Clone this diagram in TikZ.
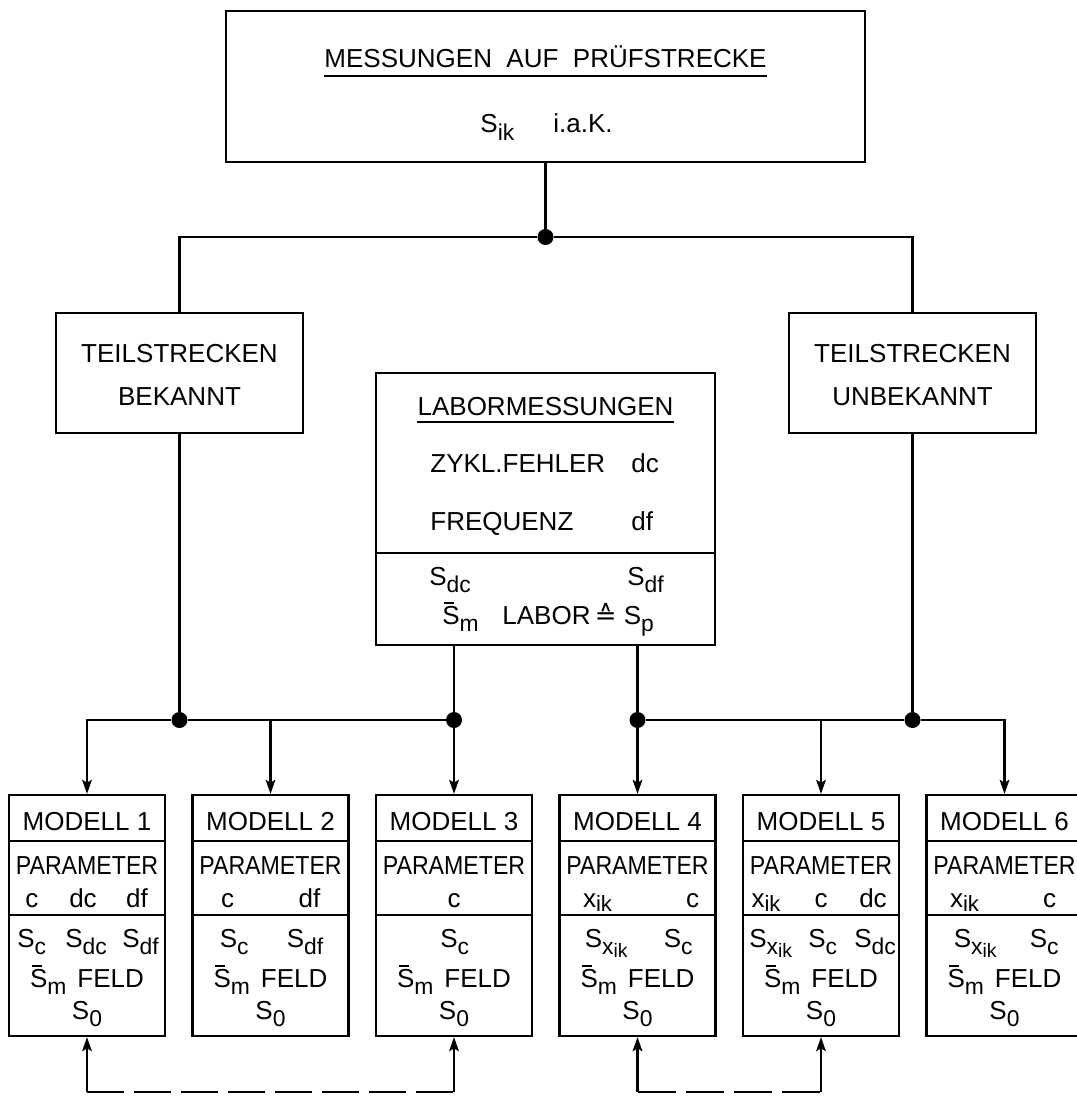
\documentclass[tikz,border=0pt]{standalone}
\usepackage{fontspec}
\setmainfont{Liberation Sans}
\newfontfamily\symf{DejaVu Sans}
\usepackage{graphicx}
\usetikzlibrary{arrows.meta}

\newcommand\sub[1]{\raisebox{-0.27em}{\scalebox{0.88}{#1}}}
\newcommand\xik{x\raisebox{-0.17em}{\scalebox{0.85}{ik}}}
\newcommand\Sbar{\leavevmode\rlap{\hspace{0.06em}\rule[0.78em]{0.38em}{0.07em}}S}

\tikzset{
  box/.style={draw, line width=1.25pt, inner sep=0pt},
  txt/.style={inner sep=0pt, anchor=base},
  con/.style={line width=1.2pt},
  arr/.style={con, -{Stealth[length=8pt, width=5.5pt, inset=1.6pt]}},
  dot/.style={circle, fill, inner sep=0pt, minimum size=0.32cm}
}

\begin{document}
\begin{tikzpicture}[font=\fontsize{14.8}{18}\selectfont]
  \useasboundingbox (0,0) rectangle (21.52,-21.92);

  % Pruefstrecke
  \node[box, minimum width=12.78cm, minimum height=3.02cm] (mess) at (10.91,-1.73) {};
  \node[txt] (messT) at (10.91,-1.36) {MESSUNGEN\ \ AUF\ \ PRÜFSTRECKE};
  \draw[con] ([yshift=-0.16cm]messT.base west) -- ([yshift=-0.16cm]messT.base east);
  \node[txt] (messS) at (10.93,-2.66) {S\sub{ik}\hspace{1.5em}i.a.K.};

  % Teilstrecken
  \node[box, minimum width=4.94cm, minimum height=2.40cm] (tbek) at (3.59,-7.46) {};
  \node[txt] (tbek1) at (3.59,-7.24) {TEILSTRECKEN};
  \node[txt] (tbek2) at (3.59,-8.10) {BEKANNT};
  \node[box, minimum width=4.94cm, minimum height=2.40cm] (tunb) at (18.25,-7.46) {};
  \node[txt] (tunb1) at (18.25,-7.24) {TEILSTRECKEN};
  \node[txt] (tunb2) at (18.25,-8.10) {UNBEKANNT};

  % Labor
  \node[box, minimum width=6.78cm, minimum height=5.44cm] (labor) at (10.91,-10.18) {};
  \node[txt] (laborT) at (10.91,-8.30) {LABORMESSUNGEN};
  \draw[con] ([yshift=-0.14cm]laborT.base west) -- ([yshift=-0.14cm]laborT.base east);
  \node[txt, anchor=base west] (zykl) at (8.60,-9.44) {ZYKL.FEHLER};
  \node[txt, anchor=base west] (zyklD) at (12.62,-9.44) {dc};
  \node[txt, anchor=base west] (freq) at (8.60,-10.60) {FREQUENZ};
  \node[txt, anchor=base west] (freqD) at (12.62,-10.60) {df};
  \coordinate (lcut) at (10.91,-11.06);
  \draw[box] (labor.west |- lcut) -- (labor.east |- lcut);
  \node[txt, anchor=base west] (sdc) at (8.58,-11.70) {S\sub{dc}};
  \node[txt, anchor=base west] (sdf) at (12.54,-11.70) {S\sub{df}};
  \node[txt, anchor=base west] (smL) at (8.84,-12.48) {\Sbar\sub{m}};
  \node[txt, anchor=base west] (lab) at (10.04,-12.48) {LABOR{\symf\,≙}\ S\sub{p}};

  % Modelle
  \foreach \n/\x in {1/1.74, 2/5.41, 3/9.08, 4/12.75, 5/16.42, 6/20.09}{
    \node[box, minimum width=3.12cm, minimum height=4.82cm] (m\n) at (\x,-18.31) {};
    \draw[box] ([yshift=-0.94cm]m\n.north west) -- ([yshift=-0.94cm]m\n.north east);
    \draw[box] ([yshift=-2.42cm]m\n.north west) -- ([yshift=-2.42cm]m\n.north east);
    \node[txt] (mt\n) at (\x,-16.60) {MODELL \n};
    \node[txt] (mp\n) at (\x,-17.48) {\scalebox{0.89}[1]{PARAMETER}};
    \node[txt] (mf\n) at (\x,-19.74) {\Sbar\sub{m}\hspace{0.42em}FELD};
    \node[txt] (mn\n) at (\x,-20.38) {S\sub{0}};
  }
  \foreach \n/\x/\row in {1/1.74/{-1.10/c,-0.08/dc,1.00/df}, 2/5.41/{-0.86/c,0.78/df},
      3/9.08/{0/c}, 4/12.75/{-0.80/\xik,1.10/c},
      5/16.42/{-1.10/\xik,0/c,1.04/dc}, 6/20.09/{-0.80/\xik,0.90/c}}
    \foreach \dx/\t [count=\k] in \row
      \node[txt] (pa\n-\k) at (\x+\dx,-18.14) {\t};
  \foreach \n/\x/\row in {1/1.74/{-1.40/S\sub{c},-0.44/S\sub{dc},0.70/S\sub{df}},
      2/5.41/{-1.02/S\sub{c},0.32/S\sub{df}}, 3/9.08/{-0.28/S\sub{c}},
      4/12.75/{-1.06/S\sub{\xik},0.52/S\sub{c}},
      5/16.42/{-1.44/S\sub{\xik},-0.26/S\sub{c},0.66/S\sub{dc}},
      6/20.09/{-1.02/S\sub{\xik},0.50/S\sub{c}}}
    \foreach \dx/\t [count=\k] in \row
      \node[txt, anchor=base west] (ps\n-\k) at (\x+\dx,-18.94) {\t};

  % Verbindungen
  \node[dot] (j0) at (10.91,-4.74) {};
  \draw[con] (mess) -- (j0);
  \draw[con] (tbek) |- (j0) -| (tunb);

  \node[dot] (j1) at (3.59,-14.40) {};
  \node[dot] (j2) at (9.08,-14.40) {};
  \node[dot] (j3) at (12.75,-14.40) {};
  \node[dot] (j4) at (18.25,-14.40) {};
  \draw[con] (tbek) -- (j1);
  \draw[con] (tunb) -- (j4);
  \draw[con] (labor.south -| j2) -- (j2);
  \draw[con] (labor.south -| j3) -- (j3);
  \draw[con] (j1) -- (j2);
  \draw[con] (j3) -- (j4);
  \draw[arr] (j1) -| (m1);
  \draw[arr] (m2 |- j1) -- (m2);
  \draw[arr] (j2) -- (m3);
  \draw[arr] (j3) -- (m4);
  \draw[arr] (m5 |- j3) -- (m5);
  \draw[arr] (j4) -| (m6);

  % Rueckfuehrung
  \coordinate (d1) at (1.74,-21.84);
  \coordinate (d3) at (9.08,-21.84);
  \coordinate (d4) at (12.75,-21.84);
  \coordinate (d5) at (16.42,-21.84);
  \draw[con, dash pattern=on 0.74cm off 0.2cm] (d1) -- (d3);
  \draw[con, dash pattern=on 0.76cm off 0.2cm] (d4) -- (d5);
  \foreach \a/\b in {d1/m1, d3/m3, d4/m4, d5/m5}
    \draw[arr] (\a) -- (\b);
\end{tikzpicture}
\end{document}
